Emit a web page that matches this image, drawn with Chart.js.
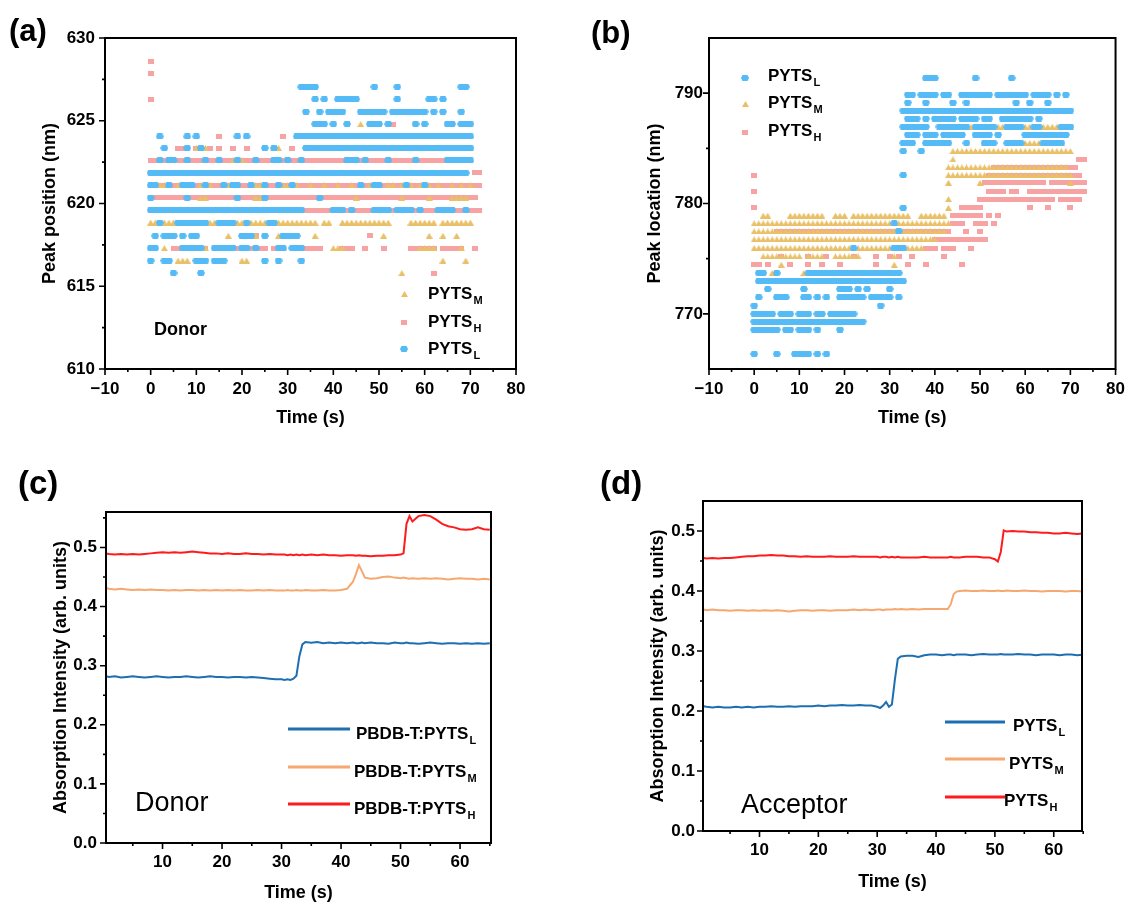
<!DOCTYPE html>
<html>
<head>
<meta charset="utf-8">
<title>Peak position and absorption intensity vs time</title>
<script src="https://cdn.jsdelivr.net/npm/chart.js@4.4.1/dist/chart.umd.min.js"></script>
<style>
  body { margin: 0; background: #fff; }
  #wrap { position: relative; width: 1135px; height: 905px; overflow: hidden; background: #fff; }
  canvas { position: absolute; }
</style>
</head>
<body>
<div id="wrap">
  <canvas id="chartA" width="560" height="440" style="left:0;top:0"></canvas>
  <canvas id="chartB" width="575" height="440" style="left:560px;top:0"></canvas>
  <canvas id="chartC" width="560" height="465" style="left:0;top:440px"></canvas>
  <canvas id="chartD" width="575" height="465" style="left:560px;top:440px"></canvas>
</div>
<script>
const FONT = '"Liberation Sans", Arial, sans-serif';
Chart.defaults.font.family = FONT;
Chart.defaults.color = '#000';

// ---- (a) donor peak position, rows of [nm, mask], one mask char per second from t = 0
const donorPeakL = [
  [615.8,  '.....#.... .#........'],
  [616.55, '#..##..... ###.###... .....#..#. ...#......'],
  [617.3,  '##.....### ##..#####. ##.#....## .###......'],
  [618.05, '.#.###.#.# #......... ###..#...# ###.......'],
  [618.85, '..#...#### ###..####. .#....##..'],
  [619.6,  '########## ########## ########## ####...... ###.#....# ###.####.# ...####..#'],
  [620.35, '#.......#. .........# .....#.... .......#..'],
  [621.1,  '##..#..### ..#...#.## ..#..#..#. .#........ ......#..# #.....#... #.........'],
  [621.85, '########## ########## ########## ########## ########## ########## ##########'],
  [622.6,  '..#.##..#. ..#..#...# ...#...##. #..#...... ...###.#.. ..#.....#. .....##### #...'],
  [623.35, '...#....#. .#........ .....#.#.. ....###### ########## ########## ########## #...'],
  [624.05, '..#.....#. #........# .#........ ..######## ########## ########## ########## #...'],
  [624.8,  '.......... .......... .......... ......###. #..#....## #.#.....#. #....##.## #...'],
  [625.55, '.......... .......... .......... ....#..#.# ###...#### ##.####### #.#.#...#.'],
  [626.3,  '.......... .......... .......... ......#.#. .#####.... ....#..... .##.#.....'],
  [627.05, '.......... .......... .......... ...####... .........# ....#..... ........##']
];
const donorPeakM = [
  [615.8,  '.......... .......... .......... .......... .......... .....#....'],
  [616.55, '......###. .......... ##........ .......... .......... .......... ....#....#'],
  [617.3,  '...#...... ..#....... .........# .......... ###....... .........# ###.....#.'],
  [618.05, '.......... .......#.. ...#....## ......#... .......... .#........ .#..#..#..'],
  [618.85, '########## ########## ########## #######.## ..######## ###....### ###.###### #...'],
  [620.35, '.......... .##....... ...##..... .......... .....#.... .....#.... .#....####'],
  [621.1,  '..##..###. .###...##. ...##....# #.#..#..#. .#..#.#.## ..##.#.#.# .#.#..#.#. #...'],
  [622.6,  '.......... ........## #......... .......... .......#..'],
  [623.35, '.......... ###....... .......##. .......... .......#.. .....#.... ......#... #...'],
  [624.8,  '.......... .......... .......... .......... ......#...']
];
const donorPeakH = [
  [615.8,  '.......... .......... .......... .......... .......... .......... ..#.......'],
  [617.3,  '.....####. .##.....## ######.#.. ...#####.. ..###..#.. .#.....### ###.#####. .#..'],
  [618.05, '.....#.... .......... ...#...... .......... ........#.'],
  [619.6,  '.......... .......... .......... ...####### ########## ########## ########## ###.'],
  [620.35, '########## ########## ########## ########## ########## ########## ########## ##..'],
  [621.1,  '########## ########## ########## ########## ########## ########## ########## ###.'],
  [621.85, '.......... .......... .......... .......... .......... .......... .......... .##.'],
  [622.6,  '########## ########## ########## ########## ########## ########## ########## #...'],
  [623.35, '......##.. #..#.#..#. .#........ .#........'],
  [624.05, '.......... .....#.... .........#'],
  [624.8,  '.......... .......... .......... .......... .......... ...#......'],
  [626.3,  '#'],
  [627.85, '#'],
  [628.6,  '#']
];

// ---- (b) acceptor peak location
const accPeakL = [
  [766.36, '#....#...# ###.#.#...'],
  [768.57, '######.##. ###.#....#'],
  [769.3,  '########## ########## #####.....'],
  [770.0,  '#####.###. ###.##.### ###.......'],
  [770.75, '#......... .......... ........#.'],
  [771.5,  '.#...###.. .##.#.#..# #####.#### #.#.......'],
  [772.25, '...#...... .#.......# ##.#.#.... #.........'],
  [772.96, '.######### ########## ########## ####......'],
  [773.7,  '.##..#.... ..######## ########## ###.......'],
  [775.96, '.......... .......... ..#....... .###......'],
  [777.47, '.......... .......... .......... ..#.......'],
  [778.2,  '.......... .......... .......... .#........'],
  [779.6,  '.......... .......... .......... ...#......'],
  [782.57, '.......... .......... .......... ...#......'],
  [784.75, '.......... .......... .......... ...#...#..'],
  [785.48, '.......... .......... .......... ...###..## ####...#.. .###..#### ....#####.'],
  [786.24, '.......... .......... .......... ....###.## #.#####..# ###.#..... ##########'],
  [786.96, '.......... .......... .......... ...######. .#######.# ####..#### ..##....## #...'],
  [787.7,  '.......... .......... .......... ....###.#. #####.#### .##..##### ##.#......'],
  [788.42, '.......... .......... .......... ...####### ########## ########## ########## #...'],
  [789.15, '.......... .......... .......... ....#...#. ....#..#.. ........#. .#...#....'],
  [789.87, '.......... .......... .......... ....##.### #.##..#### ###.###### #.####.#.#'],
  [791.36, '.......... .......... .......... ........## #........# .......#..']
];
const accPeakM = [
  [773.7,  '....#..... .#........'],
  [774.45, '......#... .......... .......... .#........'],
  [775.2,  '..######## #.####..## ####...... .#........'],
  [775.96, '########## ########## ########## #...####..'],
  [776.75, '########## ########## ########## ########## #.........'],
  [777.47, '########## ########## ########## ########## ###.......'],
  [778.2,  '########## ########## ########## ########## ####......'],
  [778.9,  '..##....## ######..## #.######## #####..### ###.......'],
  [779.6,  '.......... .......... .......... .......... ...#......'],
  [780.4,  '.......... .......... .......... .......... ...#......'],
  [781.87, '.......... .......... .......... .......... ...#...... #......... .......... #...'],
  [782.57, '.......... .......... .......... .......... ...####### ########## ########## #...'],
  [783.27, '.......... .......... .......... .......... ...####### ########## ##########'],
  [784.0,  '.......... .......... .......... .......... ....#.....'],
  [784.75, '.......... .......... .......... .......... ....###### ########## ########## #...'],
  [785.48, '.......... .......... .......... .......... .......... .##....### #########.'],
  [786.96, '.......... .......... .......... .......... ...####### ########## ########## #...']
];
const accPeakH = [
  [774.45, '##.#....#. ..#..#...# .......#.. ....#...#. ......#...'],
  [775.2,  '......#... ..#...#... ..#....#.. #.#..#.... ..#.......'],
  [775.96, '.......... .......... .......... ........## #.###...#.'],
  [776.75, '.......... .......... .......... .......... ########## ##........'],
  [777.47, '.....##### ########## ########## ########## ####...#.. #.........'],
  [778.2,  '.......... .......... .......... .......... ....###..# ##.#......'],
  [778.9,  '.......... .......... .......... .......... ....###### #.#.#.....'],
  [779.6,  '#......... .......... .......... .......... ......#### #......... .#...#.... #...'],
  [780.4,  '.......... .......... .......... .......... .......... ########## #######.## ###.'],
  [781.1,  '#......... .......... .......... .......... .......... ..####.##. .######### ####'],
  [781.87, '.......... .......... .......... .......... .......... .######### #####.#### ####'],
  [782.57, '#......... .......... .......... .......... .......... ..######## ########## ###.'],
  [783.27, '.......... .......... .......... .......... .......... ...####### ########## ##..'],
  [784.0,  '.......... .......... .......... .......... .......... .......... .......... ..##']
];

// ---- (c) and (d) absorption intensity traces, shared time base (s)
const timeAbs = [
  0.5, 1, 2, 3, 4, 5, 6, 7, 8, 9,
  10, 11, 12, 13, 14, 15, 16, 17, 18, 19,
  20, 21, 22, 23, 24, 25, 26, 27, 28, 29,
  30, 30.5, 31, 31.5, 32, 32.5, 33, 33.5, 34, 35,
  36, 37, 38, 39, 40, 41, 42, 42.5, 43, 43.5,
  44, 45, 46, 47, 48, 49, 50, 50.5, 51, 51.5,
  52, 53, 54, 55, 56, 57, 58, 59, 60, 61,
  62, 63, 64, 65
];
const donorAbsL = [
  0.282, 0.281, 0.282, 0.280, 0.281, 0.282, 0.281, 0.280, 0.281, 0.282,
  0.281, 0.280, 0.281, 0.281, 0.282, 0.281, 0.280, 0.281, 0.282, 0.281,
  0.281, 0.280, 0.281, 0.281, 0.280, 0.281, 0.280, 0.279, 0.278, 0.277,
  0.277, 0.276, 0.277, 0.276, 0.278, 0.283, 0.316, 0.336, 0.340, 0.339,
  0.340, 0.338, 0.339, 0.338, 0.339, 0.338, 0.339, 0.338, 0.338, 0.339,
  0.338, 0.339, 0.338, 0.338, 0.337, 0.339, 0.338, 0.338, 0.339, 0.338,
  0.338, 0.337, 0.338, 0.339, 0.338, 0.337, 0.338, 0.338, 0.337, 0.338,
  0.337, 0.338, 0.337, 0.338
];
const donorAbsM = [
  0.431, 0.430, 0.429, 0.430, 0.429, 0.428, 0.429, 0.428, 0.429, 0.428,
  0.428, 0.427, 0.428, 0.427, 0.428, 0.428, 0.427, 0.428, 0.427, 0.428,
  0.427, 0.428, 0.427, 0.428, 0.427, 0.427, 0.428, 0.427, 0.428, 0.427,
  0.427, 0.427, 0.428, 0.427, 0.427, 0.428, 0.427, 0.427, 0.428, 0.427,
  0.427, 0.428, 0.427, 0.427, 0.428, 0.430, 0.442, 0.455, 0.470, 0.460,
  0.449, 0.447, 0.448, 0.450, 0.451, 0.449, 0.448, 0.449, 0.448, 0.447,
  0.448, 0.447, 0.448, 0.447, 0.448, 0.447, 0.446, 0.447, 0.448, 0.447,
  0.447, 0.446, 0.447, 0.446
];
const donorAbsH = [
  0.490, 0.489, 0.488, 0.489, 0.488, 0.489, 0.488, 0.489, 0.490, 0.491,
  0.492, 0.491, 0.492, 0.491, 0.492, 0.493, 0.492, 0.491, 0.490, 0.490,
  0.489, 0.490, 0.489, 0.489, 0.490, 0.489, 0.489, 0.488, 0.489, 0.488,
  0.488, 0.488, 0.487, 0.488, 0.487, 0.488, 0.487, 0.488, 0.487, 0.488,
  0.487, 0.488, 0.487, 0.487, 0.486, 0.487, 0.487, 0.486, 0.487, 0.486,
  0.486, 0.485, 0.486, 0.486, 0.487, 0.487, 0.488, 0.490, 0.540, 0.553,
  0.544, 0.553, 0.555, 0.553, 0.547, 0.540, 0.536, 0.534, 0.531, 0.530,
  0.531, 0.534, 0.531, 0.530
];
const accAbsL = [
  0.208, 0.207, 0.206, 0.207, 0.206, 0.206, 0.207, 0.206, 0.207, 0.206,
  0.207, 0.207, 0.208, 0.207, 0.207, 0.208, 0.207, 0.208, 0.208, 0.208,
  0.209, 0.208, 0.209, 0.209, 0.210, 0.209, 0.209, 0.210, 0.209, 0.209,
  0.207, 0.205, 0.209, 0.215, 0.207, 0.211, 0.252, 0.287, 0.291, 0.292,
  0.292, 0.290, 0.293, 0.294, 0.294, 0.293, 0.294, 0.294, 0.293, 0.294,
  0.294, 0.294, 0.293, 0.294, 0.295, 0.294, 0.294, 0.294, 0.295, 0.294,
  0.294, 0.294, 0.295, 0.294, 0.294, 0.293, 0.294, 0.294, 0.294, 0.293,
  0.294, 0.294, 0.293, 0.294
];
const accAbsM = [
  0.369, 0.368, 0.369, 0.368, 0.368, 0.367, 0.368, 0.368, 0.367, 0.368,
  0.367, 0.368, 0.367, 0.368, 0.367, 0.366, 0.367, 0.368, 0.368, 0.367,
  0.368, 0.368, 0.367, 0.368, 0.368, 0.368, 0.369, 0.368, 0.369, 0.368,
  0.369, 0.369, 0.368, 0.369, 0.369, 0.369, 0.370, 0.369, 0.370, 0.369,
  0.370, 0.369, 0.370, 0.370, 0.370, 0.370, 0.370, 0.378, 0.395, 0.399,
  0.400, 0.401, 0.400, 0.400, 0.401, 0.400, 0.400, 0.401, 0.400, 0.400,
  0.401, 0.400, 0.400, 0.401, 0.400, 0.400, 0.399, 0.400, 0.400, 0.400,
  0.399, 0.400, 0.400, 0.399
];
const accAbsH = [
  0.455, 0.454, 0.455, 0.454, 0.455, 0.455, 0.456, 0.457, 0.458, 0.458,
  0.459, 0.459, 0.460, 0.459, 0.459, 0.458, 0.458, 0.457, 0.458, 0.457,
  0.457, 0.457, 0.458, 0.457, 0.457, 0.457, 0.458, 0.457, 0.457, 0.457,
  0.457, 0.456, 0.457, 0.457, 0.456, 0.457, 0.456, 0.457, 0.456, 0.456,
  0.456, 0.456, 0.457, 0.456, 0.456, 0.456, 0.456, 0.457, 0.456, 0.456,
  0.456, 0.457, 0.457, 0.457, 0.456, 0.456, 0.453, 0.449, 0.465, 0.501,
  0.499, 0.500, 0.499, 0.499, 0.498, 0.498, 0.497, 0.497, 0.496, 0.496,
  0.497, 0.496, 0.495, 0.496
];

// axis ticks
const timeTicksAB = [-10, 0, 10, 20, 30, 40, 50, 60, 70, 80];
const timeMinorAB = [-5, 5, 15, 25, 35, 45, 55, 65, 75];
const posTicksA = [610, 615, 620, 625, 630];
const posMinorA = [612.5, 617.5, 622.5, 627.5];
const locTicksB = [770, 780, 790];
const locMinorB = [775, 785];
const timeTicksCD = [10, 20, 30, 40, 50, 60];
const timeMinorCD = [5, 15, 25, 35, 45, 55, 65];
const absTicks = [0, 0.1, 0.2, 0.3, 0.4, 0.5];
const absMinor = [0.05, 0.15, 0.25, 0.35, 0.45, 0.55];

const BLUE_PT = '#55bbf6', GOLD_PT = '#e9c067', PINK_PT = '#f7a3a3';
const BLUE_LN = '#1d6fb1', ORANGE_LN = '#f5a86f', RED_LN = '#ff1b1b';

// small sprites used as point styles (slightly wider than tall)
function sprite(w, h, color, draw) {
  const c = document.createElement('canvas');
  c.width = w;
  c.height = h;
  const g = c.getContext('2d');
  g.fillStyle = color;
  g.beginPath();
  draw(g, w, h);
  g.fill();
  return c;
}
const dotL = sprite(8, 6, BLUE_PT, (g, w, h) => {
  g.moveTo(1.5, 0); g.lineTo(w - 1.5, 0); g.lineTo(w, h / 2);
  g.lineTo(w - 1.5, h); g.lineTo(1.5, h); g.lineTo(0, h / 2);
});
const triM = sprite(7, 6, GOLD_PT, (g, w, h) => {
  g.moveTo(w / 2, 0); g.lineTo(w, h); g.lineTo(0, h);
});
const sqH = sprite(6, 5, PINK_PT, (g, w, h) => { g.rect(0, 0, w, h); });

function rowsToPoints(rows) {
  const pts = [];
  rows.forEach(([nm, mask]) => {
    mask.replace(/ /g, '').split('').forEach((c, t) => {
      if (c === '#') pts.push({x: t, y: nm});
    });
  });
  return pts;
}

function trace(values) {
  return timeAbs.map((t, i) => ({x: t, y: values[i]}));
}

function axis(min, max, ticks, size, pad, title, titlePad, fmt) {
  return {
    type: 'linear', min, max,
    afterBuildTicks: s => { s.ticks = ticks.map(v => ({value: v})); },
    afterFit: s => { if (s.isHorizontal()) s.height = size; else s.width = size; },
    grid: {display: false, drawTicks: false},
    border: {display: false},
    ticks: {padding: pad, autoSkip: false, maxRotation: 0, font: {size: 17, weight: 'bold'}, callback: fmt},
    title: {display: true, text: title, font: {size: 18, weight: 'bold'}, padding: titlePad}
  };
}

// box frame + outward major/minor ticks on the bottom and left axes
function frame(xMajor, xMinor, yMajor, yMinor) {
  return {
    id: 'frame',
    afterDraw(chart) {
      const {ctx, chartArea: a} = chart;
      const sx = chart.scales.x, sy = chart.scales.y;
      ctx.save();
      ctx.strokeStyle = '#000';
      ctx.lineWidth = 1.6;
      ctx.beginPath();
      const xt = (v, len) => { const p = sx.getPixelForValue(v); ctx.moveTo(p, a.bottom); ctx.lineTo(p, a.bottom + len); };
      const yt = (v, len) => { const p = sy.getPixelForValue(v); ctx.moveTo(a.left, p); ctx.lineTo(a.left - len, p); };
      xMajor.forEach(v => xt(v, 6));
      xMinor.forEach(v => xt(v, 3));
      yMajor.forEach(v => yt(v, 6));
      yMinor.forEach(v => yt(v, 3));
      ctx.stroke();
      ctx.lineWidth = 2;
      ctx.strokeRect(a.left, a.top, a.right - a.left, a.bottom - a.top);
      ctx.restore();
    }
  };
}

function text(ctx, str, x, y, font) {
  ctx.font = font;
  ctx.fillStyle = '#000';
  ctx.textAlign = 'left';
  ctx.textBaseline = 'alphabetic';
  ctx.fillText(str, x, y);
}

// label with subscript; y is the middle of the capitals
function subLabel(ctx, main, sub, x, y, size) {
  const base = y + size * 0.36;
  text(ctx, main, x, base, `bold ${size}px ${FONT}`);
  const w = ctx.measureText(main).width;
  text(ctx, sub, x + w + 1, base + 5, `bold ${Math.round(size * 0.66)}px ${FONT}`);
}

function markKey(ctx, img, x, y) {
  ctx.drawImage(img, Math.round(x - img.width / 2), Math.round(y - img.height / 2));
}

function lineKey(ctx, color, x1, x2, y) {
  ctx.strokeStyle = color;
  ctx.lineWidth = 3;
  ctx.beginPath();
  ctx.moveTo(x1, y);
  ctx.lineTo(x2, y);
  ctx.stroke();
}

function pointSet(label, rows, img, color, order) {
  return {
    label, data: rowsToPoints(rows), order,
    pointStyle: img, pointRadius: 3, pointBorderWidth: 0,
    pointBackgroundColor: color, backgroundColor: color, borderColor: color
  };
}

function lineSet(label, values, color) {
  return {label, data: trace(values), borderColor: color, borderWidth: 2, pointRadius: 0, tension: 0};
}

const minusFmt = v => String(v).replace('-', '\u2212');
const intFmt = v => String(v);
const oneDec = v => v.toFixed(1);

// (a) Donor
new Chart(document.getElementById('chartA'), {
  type: 'scatter',
  data: {datasets: [
    pointSet('PYTS_L', donorPeakL, dotL, BLUE_PT, 0),
    pointSet('PYTS_M', donorPeakM, triM, GOLD_PT, 1),
    pointSet('PYTS_H', donorPeakH, sqH, PINK_PT, 2)
  ]},
  options: {
    responsive: false, animation: false, events: [],
    layout: {padding: {top: 38, right: 44, bottom: 0, left: 0}},
    plugins: {legend: {display: false}, tooltip: {enabled: false}},
    scales: {
      x: axis(-10, 80, timeTicksAB, 71, 10, 'Time (s)', {bottom: 11}, minusFmt),
      y: axis(610, 630, posTicksA, 105, 10, 'Peak position (nm)', {top: 39}, intFmt)
    }
  },
  plugins: [frame(timeTicksAB, timeMinorAB, posTicksA, posMinorA), {
    id: 'notesA',
    afterDraw(chart) {
      const ctx = chart.ctx;
      ctx.save();
      text(ctx, '(a)', 9, 41, `bold 31px ${FONT}`);
      text(ctx, 'Donor', 154, 335, `bold 18px ${FONT}`);
      markKey(ctx, triM, 404, 294);
      markKey(ctx, sqH, 404, 322);
      markKey(ctx, dotL, 404, 349);
      subLabel(ctx, 'PYTS', 'M', 428, 293, 17);
      subLabel(ctx, 'PYTS', 'H', 428, 321, 17);
      subLabel(ctx, 'PYTS', 'L', 428, 348, 17);
      ctx.restore();
    }
  }]
});

// (b) Acceptor
new Chart(document.getElementById('chartB'), {
  type: 'scatter',
  data: {datasets: [
    pointSet('PYTS_L', accPeakL, dotL, BLUE_PT, 0),
    pointSet('PYTS_M', accPeakM, triM, GOLD_PT, 1),
    pointSet('PYTS_H', accPeakH, sqH, PINK_PT, 2)
  ]},
  options: {
    responsive: false, animation: false, events: [],
    layout: {padding: {top: 38, right: 14, bottom: 0, left: 0}},
    plugins: {legend: {display: false}, tooltip: {enabled: false}},
    scales: {
      x: axis(-10, 80, timeTicksAB, 71, 10, 'Time (s)', {bottom: 11}, minusFmt),
      y: axis(765, 795, locTicksB, 149, 6, 'Peak location (nm)', {top: 84}, intFmt)
    }
  },
  plugins: [frame(timeTicksAB, timeMinorAB, locTicksB, locMinorB), {
    id: 'notesB',
    afterDraw(chart) {
      const ctx = chart.ctx;
      ctx.save();
      text(ctx, '(b)', 31, 43, `bold 31px ${FONT}`);
      markKey(ctx, dotL, 185, 78);
      markKey(ctx, triM, 185, 104);
      markKey(ctx, sqH, 185, 132);
      subLabel(ctx, 'PYTS', 'L', 208, 75, 17);
      subLabel(ctx, 'PYTS', 'M', 208, 102, 17);
      subLabel(ctx, 'PYTS', 'H', 208, 130, 17);
      ctx.restore();
    }
  }]
});

// (c) Donor absorption
new Chart(document.getElementById('chartC'), {
  type: 'line',
  data: {datasets: [
    lineSet('PBDB-T:PYTS_L', donorAbsL, BLUE_LN),
    lineSet('PBDB-T:PYTS_M', donorAbsM, ORANGE_LN),
    lineSet('PBDB-T:PYTS_H', donorAbsH, RED_LN)
  ]},
  options: {
    responsive: false, animation: false, events: [],
    layout: {padding: {top: 72, right: 69, bottom: 0, left: 0}},
    plugins: {legend: {display: false}, tooltip: {enabled: false}},
    scales: {
      x: axis(0.5, 65.2, timeTicksCD, 62, 9, 'Time (s)', {bottom: 1}, intFmt),
      y: axis(0, 0.56, absTicks, 106, 9, 'Absorption Intensity (arb. units)', {top: 50}, oneDec)
    }
  },
  plugins: [frame(timeTicksCD, timeMinorCD, absTicks, absMinor), {
    id: 'notesC',
    afterDraw(chart) {
      const ctx = chart.ctx;
      ctx.save();
      text(ctx, '(c)', 18, 54, `bold 33px ${FONT}`);
      text(ctx, 'Donor', 135, 371, `27px ${FONT}`);
      lineKey(ctx, BLUE_LN, 288, 350, 289);
      lineKey(ctx, ORANGE_LN, 288, 350, 327);
      lineKey(ctx, RED_LN, 288, 350, 364);
      subLabel(ctx, 'PBDB-T:PYTS', 'L', 356, 293, 17);
      subLabel(ctx, 'PBDB-T:PYTS', 'M', 354, 331, 17);
      subLabel(ctx, 'PBDB-T:PYTS', 'H', 354, 368, 17);
      ctx.restore();
    }
  }]
});

// (d) Acceptor absorption
new Chart(document.getElementById('chartD'), {
  type: 'line',
  data: {datasets: [
    lineSet('PYTS_L', accAbsL, BLUE_LN),
    lineSet('PYTS_M', accAbsM, ORANGE_LN),
    lineSet('PYTS_H', accAbsH, RED_LN)
  ]},
  options: {
    responsive: false, animation: false, events: [],
    layout: {padding: {top: 61, right: 53, bottom: 0, left: 0}},
    plugins: {legend: {display: false}, tooltip: {enabled: false}},
    scales: {
      x: axis(0.4, 64.8, timeTicksCD, 74, 9, 'Time (s)', {bottom: 12}, intFmt),
      y: axis(0, 0.55, absTicks, 143, 8, 'Absorption Intensity (arb. units)', {top: 87}, oneDec)
    }
  },
  plugins: [frame(timeTicksCD, timeMinorCD, absTicks, absMinor.filter(v => v < 0.55)), {
    id: 'notesD',
    afterDraw(chart) {
      const ctx = chart.ctx;
      ctx.save();
      text(ctx, '(d)', 40, 54, `bold 33px ${FONT}`);
      text(ctx, 'Acceptor', 181, 373, `27px ${FONT}`);
      lineKey(ctx, BLUE_LN, 385, 445, 282);
      lineKey(ctx, ORANGE_LN, 385, 445, 319);
      lineKey(ctx, RED_LN, 385, 445, 357);
      subLabel(ctx, 'PYTS', 'L', 453, 285, 17);
      subLabel(ctx, 'PYTS', 'M', 449, 323, 17);
      subLabel(ctx, 'PYTS', 'H', 444, 360, 17);
      ctx.restore();
    }
  }]
});
</script>
</body>
</html>
